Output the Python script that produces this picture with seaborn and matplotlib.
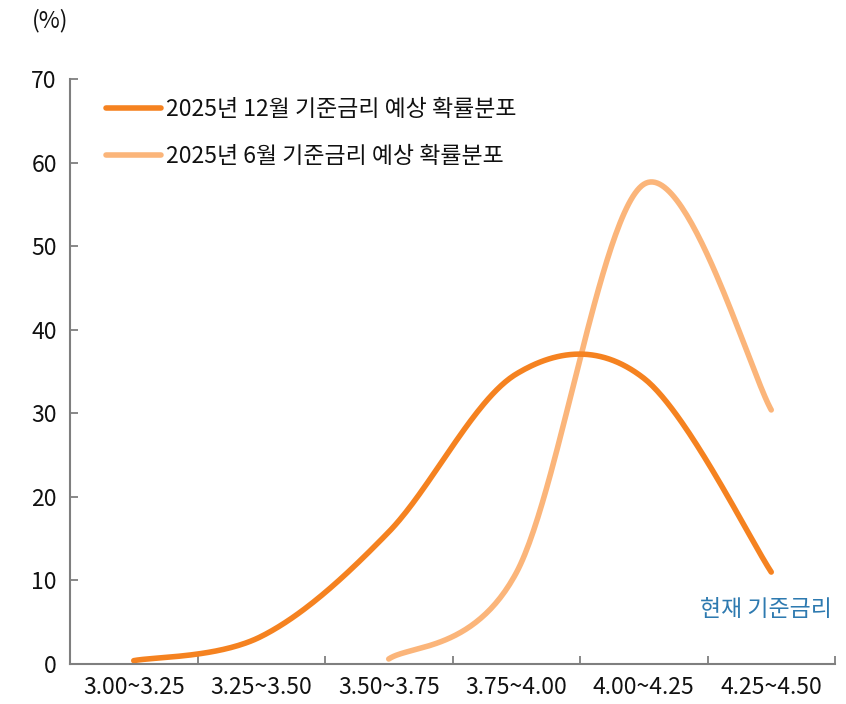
import numpy as np
import pandas as pd
import matplotlib
matplotlib.use("Agg")
import matplotlib.pyplot as plt
import seaborn as sns
from matplotlib.lines import Line2D

categories = ["3.00~3.25", "3.25~3.50", "3.50~3.75", "3.75~4.00", "4.00~4.25", "4.25~4.50"]
dec_values = [0.4, 3.3, 15.8, 34.7, 34.2, 11.0]
jun_values = [np.nan, np.nan, 0.6, 10.9, 57.4, 30.4]
series_names = ["2025년 12월 기준금리 예상 확률분포", "2025년 6월 기준금리 예상 확률분포"]
colors = ["#F58220", "#FBB57A"]
yticks = [0, 10, 20, 30, 40, 50, 60, 70]

sns.set_theme(style="white")
plt.rcParams['font.family'] = ['Noto Sans CJK KR', 'DejaVu Sans']


def smooth(xs, ys, n=60):
    """Excel-style smoothed line: Catmull-Rom as cubic Bezier segments."""
    pts = [(x, y) for x, y in zip(xs, ys) if not np.isnan(y)]
    px = np.array([p[0] for p in pts], float)
    py = np.array([p[1] for p in pts], float)
    outx, outy = [], []
    m = len(px)
    for i in range(m - 1):
        p0 = i - 1 if i > 0 else i
        p3 = i + 2 if i + 2 < m else i + 1
        c1x = px[i] + (px[i + 1] - px[p0]) / 6
        c1y = py[i] + (py[i + 1] - py[p0]) / 6
        c2x = px[i + 1] - (px[p3] - px[i]) / 6
        c2y = py[i + 1] - (py[p3] - py[i]) / 6
        t = np.linspace(0, 1, n)
        bx = (1 - t) ** 3 * px[i] + 3 * (1 - t) ** 2 * t * c1x + 3 * (1 - t) * t ** 2 * c2x + t ** 3 * px[i + 1]
        by = (1 - t) ** 3 * py[i] + 3 * (1 - t) ** 2 * t * c1y + 3 * (1 - t) * t ** 2 * c2y + t ** 3 * py[i + 1]
        outx.extend(bx)
        outy.extend(by)
    return np.array(outx), np.array(outy)


xidx = np.arange(len(categories))
frames = []
for name, vals in zip(series_names, [dec_values, jun_values]):
    sx, sy = smooth(xidx, vals)
    frames.append(pd.DataFrame({"x": sx, "y": sy, "series": name}))
df = pd.concat(frames, ignore_index=True)

fig = plt.figure(figsize=(8.46, 7.04), dpi=100)
ax = fig.add_axes([70 / 846, 1 - 664 / 704, (835 - 70) / 846, (664 - 79) / 704])

for name, col in zip(series_names[::-1], colors[::-1]):
    sub = df[df["series"] == name]
    sns.lineplot(data=sub, x="x", y="y", sort=False, estimator=None, color=col,
                 linewidth=4.0, ax=ax, legend=False, solid_capstyle="round")

FS = 16.5
ax.set_xlim(-0.5, len(categories) - 0.5)
ax.set_ylim(0, 70)
ax.set_xticks(xidx)
ax.set_xticklabels(categories)
ax.set_xticks(np.arange(-0.5, len(categories)), minor=True)
ax.set_yticks(yticks)
ax.set_yticklabels([str(v) for v in yticks])
ax.tick_params(axis="x", which="major", length=0, pad=9, labelsize=FS, labelcolor="#111111")
ax.tick_params(axis="x", which="minor", direction="in", length=6, width=1.3, color="#7f7f7f", bottom=True)
ax.tick_params(axis="y", which="major", direction="in", length=6, width=1.3, color="#7f7f7f",
               left=True, pad=9.5, labelsize=FS, labelcolor="#111111")
ax.set_xlabel("")
ax.set_ylabel("")
for s in ["top", "right"]:
    ax.spines[s].set_visible(False)
for s in ["left", "bottom"]:
    ax.spines[s].set_color("#7f7f7f")
    ax.spines[s].set_linewidth(1.5)
ax.grid(False)

handles = [Line2D([0], [0], color=c, linewidth=4.0, solid_capstyle="round") for c in colors]
leg = ax.legend(handles, series_names, loc="upper left", bbox_to_anchor=(106 / 846, 1 - 98 / 704),
                bbox_transform=fig.transFigure, frameon=False, fontsize=FS,
                handlelength=2.4, handletextpad=0.2, labelspacing=1.05, borderaxespad=0, borderpad=0)
for t in leg.get_texts():
    t.set_color("#111111")

fig.text(50 / 846, 1 - 21 / 704, "(%)", ha="center", va="center", fontsize=FS, color="#111111")
fig.text(832 / 846, 1 - 610 / 704, "현재 기준금리", ha="right", va="center", fontsize=FS, color="#2E7AB0")

fig.savefig("out.png", dpi=100)
